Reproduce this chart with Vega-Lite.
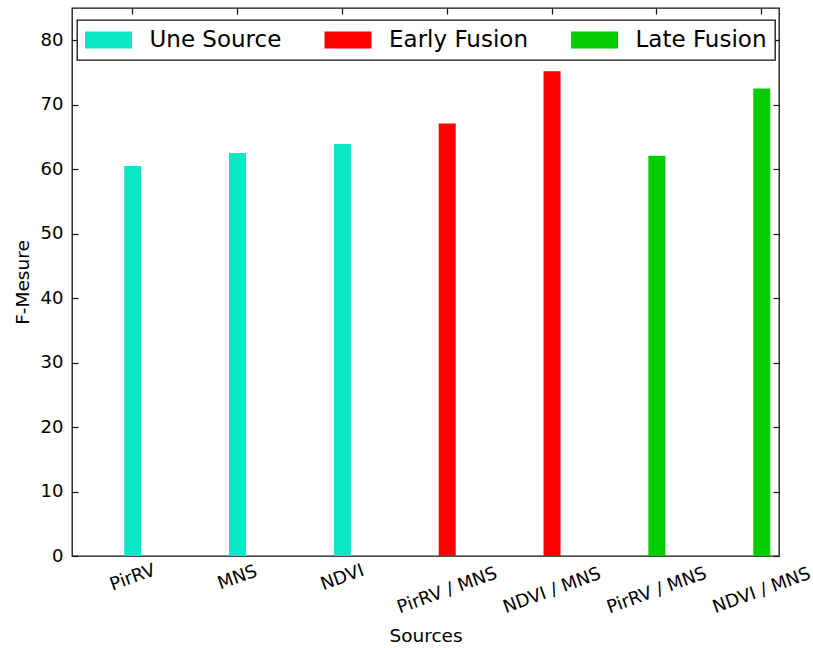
{
  "$schema": "https://vega.github.io/schema/vega-lite/v6.json",
  "width": 707,
  "height": 548,
  "autosize": {"type": "none"},
  "padding": {"left": 72, "top": 8, "right": 34, "bottom": 92},
  "background": "white",
  "config": {
    "view": {"stroke": "#111", "strokeWidth": 1.3},
    "font": "DejaVu Sans",
    "axis": {
      "domain": false,
      "grid": false,
      "tickColor": "#111",
      "tickSize": -6,
      "tickWidth": 1.2,
      "labelColor": "black",
      "titleColor": "black",
      "labelFont": "DejaVu Sans",
      "titleFont": "DejaVu Sans",
      "labelFontSize": 18,
      "titleFontSize": 18.5,
      "titleFontWeight": "normal"
    },
    "legend": {"strokeWidth": 1.3}
  },
  "data": {
    "values": [
      {"key": "PirRV#1", "type": "Une Source", "value": 60.5},
      {"key": "MNS#1", "type": "Une Source", "value": 62.5},
      {"key": "NDVI#1", "type": "Une Source", "value": 63.9},
      {"key": "PirRV / MNS#early", "type": "Early Fusion", "value": 67.1},
      {"key": "NDVI / MNS#early", "type": "Early Fusion", "value": 75.2},
      {"key": "PirRV / MNS#late", "type": "Late Fusion", "value": 62.1},
      {"key": "NDVI / MNS#late", "type": "Late Fusion", "value": 72.5}
    ]
  },
  "layer": [
    {
      "mark": {"type": "bar"},
      "encoding": {
        "x": {
          "field": "key",
          "type": "nominal",
          "sort": null,
          "scale": {"type": "band", "paddingInner": 0.838, "paddingOuter": 0.291, "align": 0.856},
          "axis": {
            "orient": "bottom",
            "labelExpr": "split(datum.label, '#')[0]",
            "labelAngle": -20,
            "labelAlign": "center",
            "labelBaseline": "top",
            "labelPadding": {"condition": {"test": "indexof(datum.label, '/') >= 0", "value": 32}, "value": 19},
            "labelOffset": -3,
            "title": "Sources",
            "titlePadding": 10
          }
        },
        "y": {
          "field": "value",
          "type": "quantitative",
          "scale": {"domain": [0, 85], "nice": false},
          "axis": {
            "orient": "left",
            "values": [0, 10, 20, 30, 40, 50, 60, 70, 80],
            "labelPadding": 15,
            "title": "F-Mesure",
            "titlePadding": 8
          }
        },
        "color": {
          "field": "type",
          "type": "nominal",
          "scale": {
            "domain": ["Une Source", "Early Fusion", "Late Fusion"],
            "range": ["#0be6c8", "#ff0000", "#00cc00"]
          },
          "legend": {
            "orient": "none",
            "legendX": 5,
            "legendY": 12,
            "direction": "horizontal",
            "columns": 3,
            "title": null,
            "symbolType": "M-1.958,-0.708L1.958,-0.708L1.958,0.708L-1.958,0.708Z",
            "symbolSize": 576,
            "symbolOffset": 11.5,
            "symbolStrokeWidth": 0,
            "symbolOpacity": 1,
            "labelFontSize": 23,
            "labelFont": "DejaVu Sans",
            "labelColor": "black",
            "labelOffset": 29,
            "columnPadding": 42.5,
            "padding": 8,
            "strokeColor": "#111",
            "fillColor": "white"
          }
        }
      }
    },
    {
      "mark": {"type": "bar", "opacity": 0},
      "encoding": {
        "x": {
          "field": "key",
          "type": "nominal",
          "sort": null,
          "axis": {"orient": "top", "labels": false, "title": null}
        },
        "y": {
          "field": "value",
          "type": "quantitative",
          "axis": {"orient": "right", "labels": false, "title": null, "values": [0, 10, 20, 30, 40, 50, 60, 70, 80]}
        }
      }
    }
  ],
  "resolve": {"axis": {"x": "independent", "y": "independent"}}
}
